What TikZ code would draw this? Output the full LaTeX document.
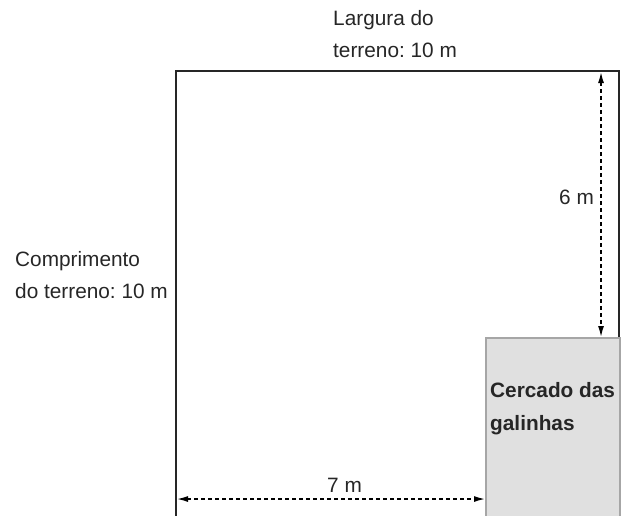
\documentclass[tikz,border=0pt]{standalone}
\usepackage{fontspec}
\setmainfont{Liberation Sans}
\usetikzlibrary{arrows.meta}
\frenchspacing

\tikzset{
  rotulo/.style={anchor=base west,align=left,inner sep=0pt,text=black!85},
  cota/.style={arrows={Latex[length=11pt,width=6pt]-Latex[length=11pt,width=6pt]},line width=1.4pt,dash pattern=on 4pt off 3pt}
}

\begin{document}
\begin{tikzpicture}[x=1pt,y=-1pt,font=\fontsize{20.8}{32}\selectfont]
    \useasboundingbox (0,0) rectangle (628,515);
    \clip (0,0) rectangle (628,515);
    % terreno
    \coordinate (tl) at (176,71);
    \coordinate (tr) at (619,71);
    \coordinate (bl) at (176,530);
    \coordinate (br) at (619,338);
    \draw[line width=1.6pt,color=black!85] (bl) -- (tl) -- (tr) -- (br);
    % cercado
    \filldraw[fill=black!12,draw=black!35,line width=1.2pt] (486,338) rectangle (620,530);

    % cotas
    \coordinate (c6a) at (601,72);
    \coordinate (c6b) at (601,337);
    \coordinate (c7a) at (177,499);
    \coordinate (c7b) at (485,499);
    \draw[cota] (c6a) -- (c6b);
    \draw[cota] (c7a) -- (c7b);

    % textos (base = linha de baixo)
    \node[rotulo] (larg) at (333,57.5) {Largura do\\terreno: 10 m};
    \node[rotulo] (comp) at (15,298) {Comprimento\\do terreno: 10 m};
    \node[rotulo,font=\fontsize{20.8}{33}\selectfont\bfseries] (cerc) at (490,430) {Cercado das\\galinhas};
    \node[rotulo] (m6) at (559,204) {6 m};
    \node[rotulo] (m7) at (327,492.7) {7 m};
\end{tikzpicture}
\end{document}
